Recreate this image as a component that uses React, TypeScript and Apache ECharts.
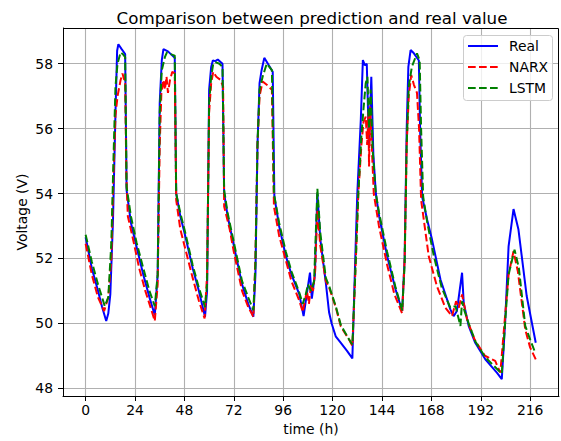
import React, { useEffect, useRef } from "react";
import * as echarts from "echarts";

const xTicks = [0, 24, 48, 72, 96, 120, 144, 168, 192, 216];
const yTicks = [48, 50, 52, 54, 56, 58];
const seriesNames = ["Real", "NARX", "LSTM"];
const seriesColors = ["#0000ff", "#ff0000", "#008000"];

const realData: [number, number][] = [
  [0, 52.65], [3, 51.7], [6, 51.0], [8, 50.5], [10, 50.07], [11, 50.3], [12, 50.9], [13.3, 53.2], [14.5, 56.5], [15.3, 58.4], [15.9, 58.6], [17.5, 58.45], [19.2, 58.3], [19.9, 54.1], [22, 53.1], [24.7, 52.37], [28, 51.5], [31, 50.8], [33.6, 50.25], [35, 51.5], [36, 56.8], [37, 58.1], [37.8, 58.45], [40, 58.38], [43.3, 58.18], [44, 54.0], [46, 53.3], [48, 52.8], [52, 51.7], [55, 51.0], [58, 50.2], [59, 51], [60, 57.2], [61, 57.9], [61.8, 58.1], [63, 58.08], [64.2, 58.13], [66.5, 58.0], [67.3, 54.0], [69, 53.3], [72, 52.4], [76, 51.2], [79, 50.6], [81.5, 50.2], [82.5, 51.5], [83.5, 55.5], [84.5, 57.4], [85.5, 57.8], [86.8, 58.18], [89, 57.95], [90.9, 57.75], [91.7, 53.9], [94, 53], [97.3, 52.07], [100, 51.5], [103.8, 50.9], [105.9, 50.22], [107.3, 50.84], [109, 51.56], [109.9, 50.76], [111.4, 51.5], [112.6, 54.0], [114, 52.6], [116.7, 51.25], [118.3, 50.33], [119.5, 50.0], [121.5, 49.6], [124, 49.4], [127, 49.15], [129.6, 48.92], [131, 52], [132, 54.0], [133.7, 56.27], [134.7, 58.11], [135.7, 57.95], [136.6, 58.0], [137.7, 55.4], [138.8, 57.6], [139.8, 55.2], [141, 54], [142.6, 53.3], [146.5, 52.07], [150.6, 51.04], [153.8, 50.38], [155, 52], [156, 56], [156.8, 57.9], [157.9, 58.42], [159.5, 58.32], [161.9, 58.1], [162.5, 56], [163.5, 53.9], [165.9, 53.2], [168.3, 52.58], [172.4, 51.35], [177.2, 50.43], [178.8, 50.22], [180.4, 50.38], [182.9, 51.56], [183.7, 50.63], [186.1, 49.92], [189.3, 49.4], [194.2, 48.89], [199.8, 48.48], [202.2, 48.28], [203.9, 50.12], [205.5, 52.37], [207.9, 53.52], [210.3, 52.89], [214.3, 50.84], [218.7, 49.4],
];

const narxData: [number, number][] = [
  [0, 52.45], [3, 51.5], [6, 50.8], [9, 50.38], [11, 50.8], [12.5, 52], [13.5, 54.5], [14.5, 56.4], [15.5, 57.0], [17, 57.5], [17.9, 57.7], [19.2, 57.4], [19.8, 54.5], [20.5, 53.3], [23, 52.6], [26, 51.7], [29, 51.0], [31.5, 50.5], [33.6, 50.07], [35, 51.2], [36, 55.5], [36.8, 57.1], [37.8, 57.5], [38.5, 57.2], [39.3, 57.6], [40, 57.1], [41, 57.5], [42.1, 57.75], [43.3, 57.7], [44, 53.8], [46, 52.9], [48, 52.4], [52, 51.4], [55, 50.7], [57.8, 50.15], [59, 51.5], [60, 56.5], [61, 57.4], [62, 57.75], [63.5, 57.6], [65.5, 57.5], [66.8, 57.3], [67.3, 53.6], [70, 52.9], [72, 52.2], [76, 51.0], [79, 50.5], [81.5, 50.2], [82.5, 52], [83.5, 55.5], [84.5, 57.0], [86, 57.45], [88, 57.35], [90.5, 57.2], [91.5, 53.6], [94, 52.7], [97, 52.0], [100, 51.3], [103.8, 50.7], [105.5, 50.35], [107.5, 51.0], [108.5, 50.6], [109.5, 51.2], [110.5, 51.0], [111.5, 51.6], [112.6, 53.5], [114, 52.4], [116.7, 51.3], [118.3, 51.1], [121.5, 50.5], [124, 49.9], [128, 49.5], [129.6, 49.3], [131, 51.5], [132.5, 54.0], [134, 55.5], [135, 56.2], [136.1, 56.37], [136.8, 55.5], [137.4, 56.5], [137.7, 54.83], [138.2, 56.68], [139, 55.5], [140, 54.0], [142.5, 53.0], [146.5, 51.8], [150, 50.9], [153.8, 50.3], [155, 52], [156, 55.5], [157, 57.0], [158.2, 57.65], [159.5, 57.35], [161, 57.1], [162, 56], [163, 53.8], [166.7, 52.07], [170.7, 51.14], [174.8, 50.48], [178, 50.22], [180, 50.68], [181.3, 50.48], [182.9, 50.89], [185.3, 50.12], [189, 49.5], [194, 49.0], [199, 48.84], [201.5, 48.48], [203.5, 50.0], [205.5, 51.5], [207.9, 52.22], [210, 51.6], [213.6, 49.81], [216, 49.25], [218.7, 48.89],
];

const lstmData: [number, number][] = [
  [0, 52.73], [3, 51.9], [6, 51.2], [9.3, 50.53], [11, 50.8], [12.5, 52.5], [13.5, 55], [14.5, 57.3], [15.5, 58.0], [17, 58.35], [18, 58.3], [19.2, 58.2], [19.9, 54.2], [22, 53.3], [24.7, 52.5], [28, 51.7], [31, 51.0], [33.6, 50.53], [35, 51.5], [36, 56.5], [37, 57.8], [38.5, 58.2], [39.5, 58.35], [41, 58.3], [43.3, 58.25], [44, 54.0], [46, 53.4], [48, 52.9], [52, 51.8], [55, 51.1], [58, 50.5], [59, 51.2], [60, 56.8], [61, 57.6], [62, 58.0], [63, 58.05], [65, 58.0], [66.5, 57.9], [67.3, 54.1], [69, 53.4], [72, 52.5], [76, 51.3], [79, 50.8], [81.5, 50.4], [82.5, 51.8], [83.5, 55.5], [84.5, 57.2], [86, 57.6], [88, 58.0], [90.5, 57.8], [91.5, 54.0], [94, 53.1], [97.3, 52.2], [100, 51.6], [103.8, 50.95], [105.5, 50.6], [107, 50.9], [108, 51.2], [109.5, 51.0], [111, 51.3], [112.6, 54.15], [114, 52.8], [116.7, 51.4], [118.3, 51.15], [121.5, 50.53], [124, 49.95], [128, 49.5], [129.6, 49.35], [131, 51.5], [132.5, 54.0], [134, 55.8], [135, 56.6], [136.1, 57.4], [136.9, 57.6], [137.7, 56.0], [138.5, 57.2], [139.5, 55.3], [141, 54.0], [142.6, 53.4], [146.5, 52.2], [150.6, 51.1], [153.8, 50.4], [155, 51.8], [156, 55.5], [157, 57.3], [158.5, 57.9], [161, 58.32], [162.3, 58.1], [163, 56], [164, 53.9], [166, 53.1], [169.2, 52.07], [173, 51.1], [177.2, 50.48], [179.7, 50.53], [182.1, 49.92], [182.9, 50.68], [184, 50.4], [186.1, 50.0], [189.3, 49.45], [194.2, 48.95], [199.8, 48.6], [202.2, 48.45], [203.9, 50.1], [205.5, 51.5], [208.4, 52.27], [210.5, 51.7], [213.6, 49.92], [216, 49.5], [218.4, 49.1],
];

const FONT = "DejaVu Sans";
const FS = 13.9;

export default function App() {
  const ref = useRef<HTMLDivElement>(null);
  useEffect(() => {
    if (!ref.current) return;
    const chart = echarts.init(ref.current, null, { renderer: "svg" });
    const dash = [7.7, 3.3];
    const lw = 2;
    const gridBox = { left: 63, right: 2, top: 28, bottom: 44 };
    const legendItems: any[] = [];
    seriesNames.forEach((name, i) => {
      const y = 46 + i * 21;
      legendItems.push({
        type: "line",
        z: 101,
        shape: { x1: 468, y1: y, x2: 498, y2: y },
        style: {
          stroke: seriesColors[i],
          lineWidth: lw,
          lineDash: i === 0 ? null : dash,
        },
      });
      legendItems.push({
        type: "text",
        z: 101,
        x: 509,
        y: y,
        style: {
          text: name,
          fontFamily: FONT,
          fontSize: FS,
          fill: "#000",
          verticalAlign: "middle",
          align: "left",
        },
      });
    });
    chart.setOption({
      animation: false,
      backgroundColor: "#ffffff",
      textStyle: { fontFamily: FONT },
      title: {
        text: "Comparison between prediction and real value",
        left: 307,
        top: 4,
        textAlign: "center",
        textStyle: { fontFamily: FONT, fontSize: 16.7, fontWeight: "normal", color: "#000" },
      },
      graphic: [
        {
          type: "rect",
          z: 99,
          silent: true,
          shape: { x: 63.5, y: 28.5, width: 561 - 2 - 63 - 1, height: 441 - 44 - 28 - 1 },
          style: { fill: "none", stroke: "#000", lineWidth: 1 },
        },
        {
          type: "rect",
          z: 100,
          shape: { x: 463.5, y: 35.5, width: 89, height: 65, r: 3 },
          style: { fill: "rgba(255,255,255,0.8)", stroke: "#cccccc", lineWidth: 1 },
        },
        ...legendItems,
      ],
      grid: { ...gridBox, containLabel: false },
      xAxis: {
        type: "value",
        min: -11,
        max: 230,
        name: "time (h)",
        nameLocation: "middle",
        nameGap: 26,
        nameMoveOverlap: false,
        nameTextStyle: { fontFamily: FONT, fontSize: FS, color: "#000" },
        axisLine: { onZero: false, lineStyle: { color: "#000", width: 1 } },
        axisTick: { show: true, length: 5, customValues: xTicks, lineStyle: { color: "#000" } },
        axisLabel: { customValues: xTicks, margin: 7, fontFamily: FONT, fontSize: FS, color: "#000" },
        splitLine: { show: true, lineStyle: { color: "#b0b0b0", width: 1.1 } },
      },
      yAxis: {
        type: "value",
        min: 47.76,
        max: 59.1,
        name: "Voltage (V)",
        nameLocation: "middle",
        nameGap: 34,
        nameMoveOverlap: false,
        nameRotate: 90,
        nameTextStyle: { fontFamily: FONT, fontSize: FS, color: "#000" },
        axisLine: { show: true, onZero: false, lineStyle: { color: "#000", width: 1 } },
        axisTick: { show: true, length: 5, customValues: yTicks, lineStyle: { color: "#000" } },
        axisLabel: { customValues: yTicks, margin: 10, fontFamily: FONT, fontSize: FS, color: "#000" },
        splitLine: { show: true, lineStyle: { color: "#b0b0b0", width: 1.1 } },
      },
      series: [
        {
          name: seriesNames[0],
          type: "line",
          data: realData,
          symbol: "none",
          lineStyle: { color: seriesColors[0], width: lw },
          itemStyle: { color: seriesColors[0] },
        },
        {
          name: seriesNames[1],
          type: "line",
          data: narxData,
          symbol: "none",
          lineStyle: { color: seriesColors[1], width: lw, type: dash },
          itemStyle: { color: seriesColors[1] },
        },
        {
          name: seriesNames[2],
          type: "line",
          data: lstmData,
          symbol: "none",
          lineStyle: { color: seriesColors[2], width: lw, type: dash },
          itemStyle: { color: seriesColors[2] },
        },
      ],
    });
    return () => chart.dispose();
  }, []);
  return (
    <div
      ref={ref}
      style={{ position: "absolute", left: 0, top: 0, width: 561, height: 441 }}
    />
  );
}
